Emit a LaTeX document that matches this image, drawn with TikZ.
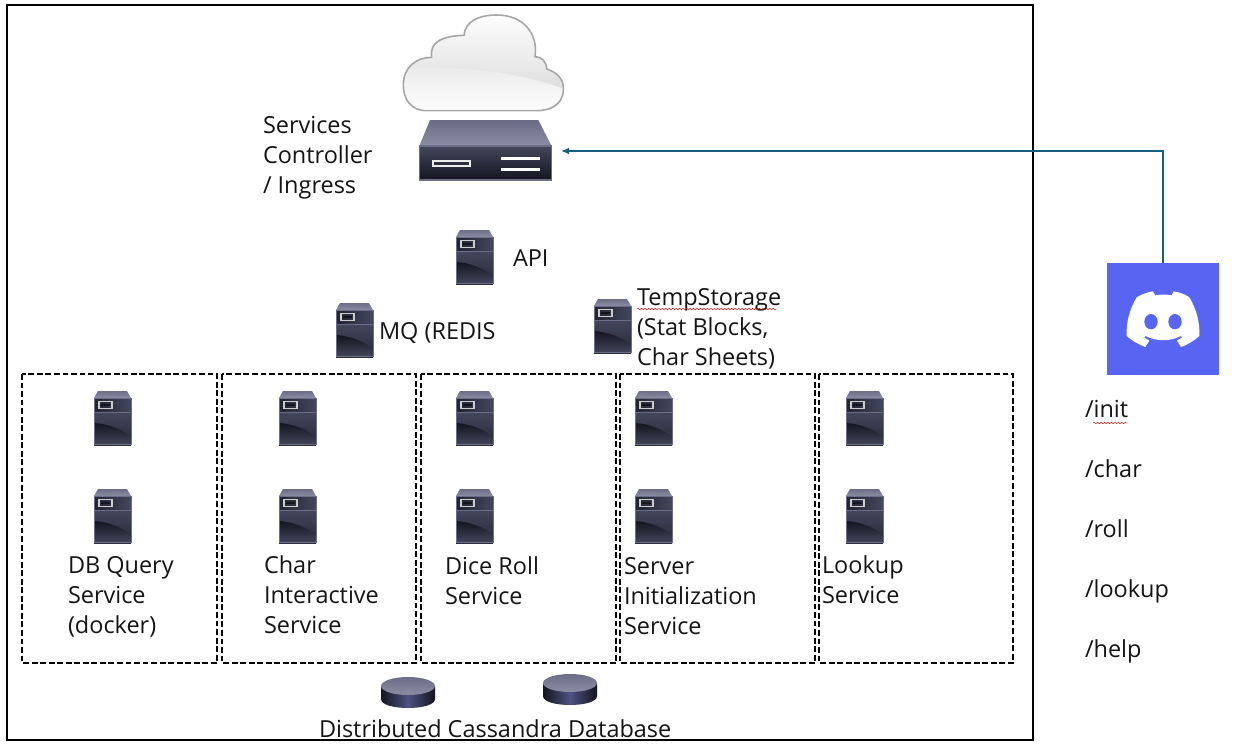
\documentclass[tikz,border=0pt]{standalone}
\usepackage{fontspec}
\setmainfont{Open Sans}
\usetikzlibrary{decorations.pathmorphing,arrows.meta}
\definecolor{linkblue}{HTML}{156082}
\definecolor{discordblue}{HTML}{5865F2}
\definecolor{devtop}{HTML}{8A8DA3}
\definecolor{devedge}{HTML}{6A6D85}
\definecolor{devdark}{HTML}{14151F}
\definecolor{devmid}{HTML}{44465C}
\definecolor{diskblue}{HTML}{4E5280}
\tikzset{
  x=.75pt,y=-.75pt,
  lbl/.style={inner sep=0pt,outer sep=0pt,anchor=north west,align=left,text=black!92,
    font=\fontsize{17.6pt}{22.5pt}\selectfont},
  frame/.style={draw=black,line width=1.5pt},
  groupbox/.style={draw=black,line width=1pt,dash pattern=on 4.4pt off 2pt},
  link/.style={draw=linkblue,line width=1.1pt,-{Latex[length=6pt,width=5pt]}},
  squiggle/.style={draw=red!80!black,line width=.35pt,decorate,decoration={snake,amplitude=.5pt,segment length=2.6pt}},
  tower/.pic={
    \shade[top color=devedge,bottom color=devtop] (0,7)--(4,0)--(33,0)--(37,7)--cycle;
    \shade[left color=devdark!70!devmid,right color=devmid] (0,7) rectangle (37,21);
    \shade[top color=devmid,bottom color=devdark!60!devmid] (0,21) rectangle (37,54);
    \shade[top color=devdark,bottom color=devmid] (0,32) .. controls (14,33) and (28,38) .. (37,46) -- (37,54) -- (0,54) -- cycle;
    \draw[devedge,line width=.6pt] (0,7) rectangle (37,53.5);
    \draw[devedge,line width=.4pt] (0,21) -- (37,21);
    \draw[black!20,line width=1pt] (5,10.5) rectangle (18,17.5);
    \fill[devdark] (7,12.8) rectangle (16,15.2);
  },
  disk/.pic={
    \shade[left color=devdark,right color=devdark,middle color=diskblue] (0,9) -- (0,22) .. controls (0,34) and (54,34) .. (54,22) -- (54,9) -- cycle;
    \shade[top color=devedge,bottom color=devtop] (27,9) ellipse[x radius=27,y radius=9];
  }
}
\begin{document}
\begin{tikzpicture}
\useasboundingbox (0,0) rectangle (1260,747);
\fill[white] (0,0) rectangle (1260,747);
\draw[frame] (7,5) rectangle (1033,740);

% cloud
\begin{scope}[shift={(390,10)},x=.25pt,y=-.25pt]
  \def\cloudpath{(110,302) .. controls (60,302) and (40,265) .. (40,225)
    .. controls (40,170) and (80,142) .. (125,142)
    .. controls (118,100) and (150,78) .. (222,76)
    .. controls (225,35) and (265,15) .. (320,15)
    .. controls (400,15) and (445,70) .. (435,140)
    .. controls (455,140) and (470,155) .. (470,177)
    .. controls (510,190) and (522,215) .. (520,240)
    .. controls (518,285) and (480,302) .. (440,302) -- cycle}
  \begin{scope}
    \clip \cloudpath;
    \shade[top color=white,bottom color=black!13] (0,0) rectangle (560,240);
    \shade[top color=black!8,bottom color=white] (30,172) .. controls (250,170) and (400,190) .. (530,240) -- (530,310) -- (30,310) -- cycle;
  \end{scope}
  \draw[black!35,line width=1.2pt] \cloudpath;
\end{scope}

% controller rack
\begin{scope}[shift={(390,10)},x=.25pt,y=-.25pt]
  \shade[top color=devedge,bottom color=devtop] (120,330)--(445,330)--(485,408)--(88,408)--cycle;
  \shade[top color=devmid,bottom color=devdark] (88,408) rectangle (485,510);
  \draw[devedge,line width=.8pt] (88,408) rectangle (485,510);
  \draw[black!8,line width=1.5pt] (129,452) rectangle (241,469);
  \fill[white] (332,440) rectangle (449,449);
  \fill[white] (332,473) rectangle (449,482);
\end{scope}
\coordinate (controller) at (561,151);

% towers
\pic at (456,230) {tower};
\pic at (336,303) {tower};
\pic at (594,299) {tower};
\foreach \tx in {94,279,456,635,846}{
  \pic at (\tx,391) {tower};
  \pic at (\tx,489) {tower};
}

% groups
\draw[groupbox] (22,374) rectangle (217,663);
\draw[groupbox] (222,374) rectangle (416,663);
\draw[groupbox] (421,374) rectangle (616,663);
\draw[groupbox] (620,374) rectangle (815,663);
\draw[groupbox] (819,374) rectangle (1013,663);

% disks
\pic at (381,677) {disk};
\pic at (543,674) {disk};

% discord
\node[fill=discordblue,minimum width=84pt,minimum height=84pt,inner sep=0pt,outer sep=0pt] (discord) at (1163,319) {};
\begin{scope}[shift={(1090,250)},x=.25pt,y=-.25pt]
  \fill[white] (188,124) -- (196,136) .. controls (215,133) and (228,133) .. (245,136) -- (251,124)
    .. controls (270,127) and (285,133) .. (298,142)
    .. controls (318,175) and (330,215) .. (328,258)
    .. controls (312,272) and (295,283) .. (273,291)
    -- (261,272) -- (277,262) -- (272,258)
    .. controls (240,275) and (200,275) .. (167,258)
    -- (162,262) -- (178,272) -- (166,291)
    .. controls (145,283) and (126,272) .. (110,258)
    .. controls (108,215) and (120,175) .. (140,142)
    .. controls (155,133) and (170,127) .. (188,124) -- cycle;
  \fill[discordblue] (183,215) ellipse[x radius=20,y radius=23];
  \fill[discordblue] (255,215) ellipse[x radius=20,y radius=23];
\end{scope}

\draw[link] (discord.north) |- (controller);

% labels
\node[lbl] (services) at (263,112) {\strut Services\\Controller\\/ Ingress};
\node[lbl] (api) at (513,245) {\strut API};
\node[lbl] (mq) at (379,318) {\strut MQ (REDIS};
\node[lbl] (temp) at (637,284) {\strut TempStorage\\(Stat Blocks,\\Char Sheets)};
\node[lbl] (dbq) at (68,552) {\strut DB Query\\Service\\(docker)};
\node[lbl] (chr) at (264,552) {\strut Char\\Interactive\\Service};
\node[lbl] (dice) at (445,553) {\strut Dice Roll\\Service};
\node[lbl] (srv) at (624,553) {\strut Server\\Initialization\\Service};
\node[lbl] (look) at (822,552) {\strut Lookup\\Service};
\node[lbl] (cass) at (319,716) {\strut Distributed Cassandra Database};
\node[lbl] (cinit) at (1085,396) {\strut /init};
\node[lbl] (cchar) at (1085,456) {\strut /char};
\node[lbl] (croll) at (1085,516) {\strut /roll};
\node[lbl] (clook) at (1085,576) {\strut /lookup};
\node[lbl] (chelp) at (1085,636) {\strut /help};

% spell-check marks
\draw[squiggle] (637,309) -- (777,309);
\draw[squiggle] (1093,423) -- (1128,423);
\end{tikzpicture}
\end{document}
